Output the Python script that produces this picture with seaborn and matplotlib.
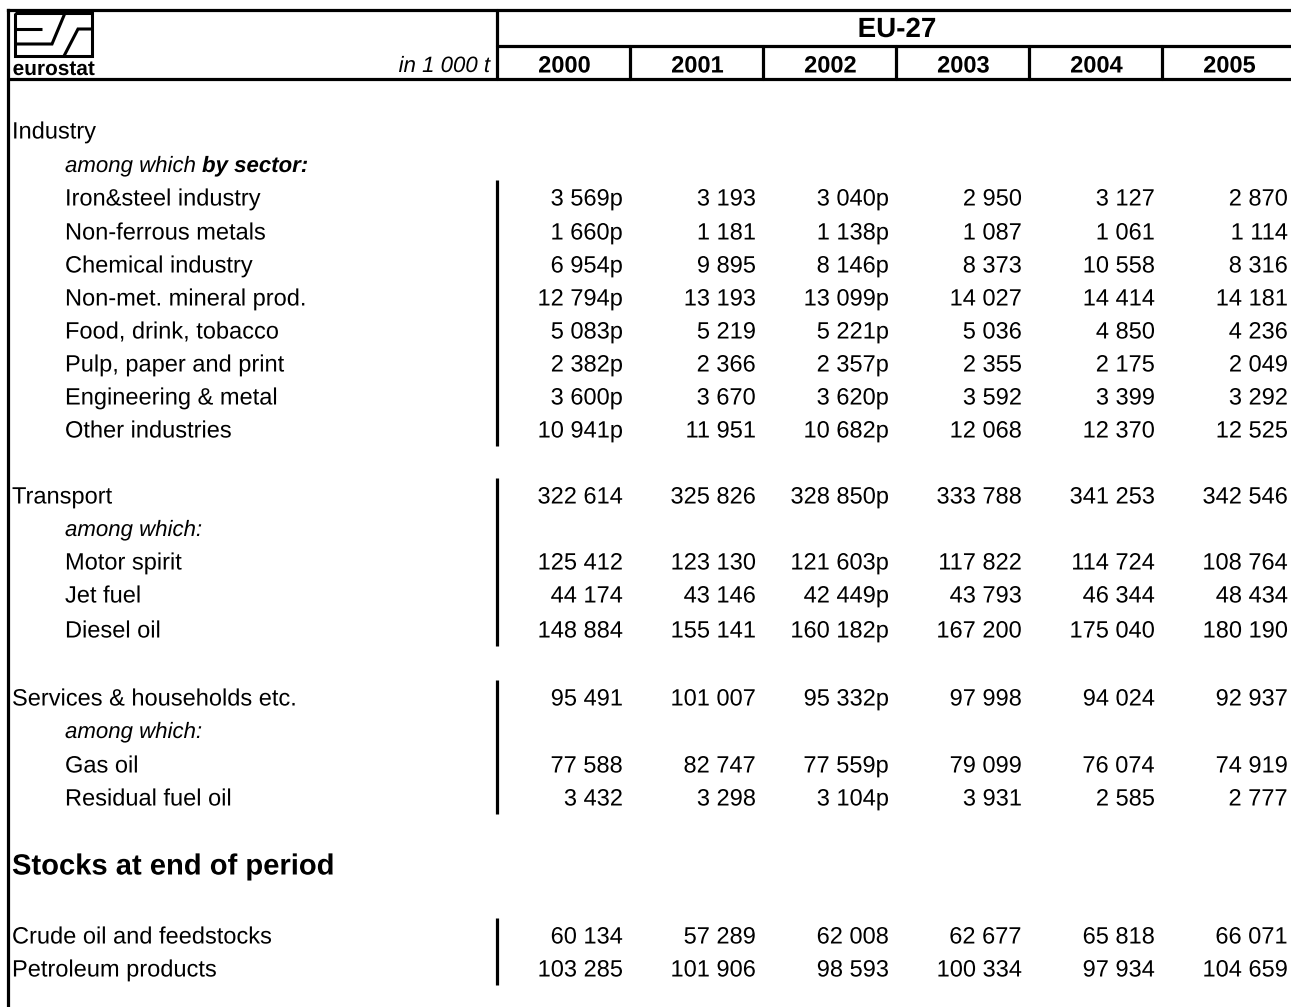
import matplotlib
matplotlib.use("Agg")
import matplotlib.pyplot as plt
import matplotlib.patheffects as pe
import seaborn as sns
import pandas as pd

# --- data (in 1 000 t), EU-27 ---
years = [2000, 2001, 2002, 2003, 2004, 2005]

sector_labels = ["Iron&steel industry", "Non-ferrous metals", "Chemical industry",
                 "Non-met. mineral prod.", "Food, drink, tobacco", "Pulp, paper and print",
                 "Engineering & metal", "Other industries"]
sector_2000 = [3569, 1660, 6954, 12794, 5083, 2382, 3600, 10941]
sector_2001 = [3193, 1181, 9895, 13193, 5219, 2366, 3670, 11951]
sector_2002 = [3040, 1138, 8146, 13099, 5221, 2357, 3620, 10682]
sector_2003 = [2950, 1087, 8373, 14027, 5036, 2355, 3592, 12068]
sector_2004 = [3127, 1061, 10558, 14414, 4850, 2175, 3399, 12370]
sector_2005 = [2870, 1114, 8316, 14181, 4236, 2049, 3292, 12525]

transport = [322614, 325826, 328850, 333788, 341253, 342546]
motor_spirit = [125412, 123130, 121603, 117822, 114724, 108764]
jet_fuel = [44174, 43146, 42449, 43793, 46344, 48434]
diesel_oil = [148884, 155141, 160182, 167200, 175040, 180190]

services = [95491, 101007, 95332, 97998, 94024, 92937]
gas_oil = [77588, 82747, 77559, 79099, 76074, 74919]
residual_fuel_oil = [3432, 3298, 3104, 3931, 2585, 2777]

crude_stocks = [60134, 57289, 62008, 62677, 65818, 66071]
product_stocks = [103285, 101906, 98593, 100334, 97934, 104659]

# years flagged provisional ("p")
prov_sectors = [2000, 2002]
prov_transport = [2002]
prov_services = [2002]
prov_stocks = []

# --- build the table rows ---
sector_cols = [sector_2000, sector_2001, sector_2002, sector_2003, sector_2004, sector_2005]
rows = []
rows.append(dict(label="Industry", kind="main", vals=None, prov=[]))
rows.append(dict(label="among which", kind="note_sector", vals=None, prov=[]))
for i, lab in enumerate(sector_labels):
    rows.append(dict(label=lab, kind="sub", vals=[c[i] for c in sector_cols], prov=prov_sectors))
rows.append(dict(label="", kind="blank", vals=None, prov=[]))
rows.append(dict(label="Transport", kind="main", vals=transport, prov=prov_transport))
rows.append(dict(label="among which:", kind="note", vals=None, prov=[]))
rows.append(dict(label="Motor spirit", kind="sub", vals=motor_spirit, prov=prov_transport))
rows.append(dict(label="Jet fuel", kind="sub", vals=jet_fuel, prov=prov_transport))
rows.append(dict(label="Diesel oil", kind="sub", vals=diesel_oil, prov=prov_transport))
rows.append(dict(label="", kind="blank", vals=None, prov=[]))
rows.append(dict(label="Services & households etc.", kind="main", vals=services, prov=prov_services))
rows.append(dict(label="among which:", kind="note", vals=None, prov=[]))
rows.append(dict(label="Gas oil", kind="sub", vals=gas_oil, prov=prov_services))
rows.append(dict(label="Residual fuel oil", kind="sub", vals=residual_fuel_oil, prov=prov_services))
rows.append(dict(label="", kind="blank", vals=None, prov=[]))
rows.append(dict(label="Stocks at end of period", kind="head", vals=None, prov=[]))
rows.append(dict(label="", kind="blank", vals=None, prov=[]))
rows.append(dict(label="Crude oil and feedstocks", kind="main", vals=crude_stocks, prov=prov_stocks))
rows.append(dict(label="Petroleum products", kind="main", vals=product_stocks, prov=prov_stocks))
df = pd.DataFrame(rows)

# row centres in pixels (layout)
row_y = [130, 164, 197, 231, 264, 297, 330, 363, 396, 429, 462,
         495, 528, 561, 594, 629, 663, 697, 730, 764, 797, 830,
         864, 900, 935, 968]
df["y"] = row_y

# blocks of rows that get the vertical bar next to the numbers (first, last row index)
bar_blocks = [(2, 9), (11, 15), (17, 20), (24, 25)]


def fmt(v, flag):
    s = f"{v:,}".replace(",", " ")
    return s + ("p" if flag else "")


sns.set_theme(style="white")
plt.rcParams["font.family"] = ["Liberation Sans", "DejaVu Sans"]
plt.rcParams["text.color"] = "black"
# draw text as paths so rows stay on one baseline (no pixel snapping)
plt.rcParams["path.effects"] = [pe.Normal()]

W, H = 1291, 1007
fig = plt.figure(figsize=(W / 100, H / 100), dpi=100)
ax = fig.add_axes([0, 0, 1, 1])
ax.set_xlim(0, W)
ax.set_ylim(H, 0)
ax.axis("off")

lw = 2.3
x_left = 8
x_lab = 497
col_w = 133
col_edges = [x_lab + col_w * k for k in range(len(years) + 1)]
y_top, y_mid, y_hdr = 10, 46, 79
BL = 8.5   # baseline offset below the row centre (px)

# header frame
ax.plot([x_left, W], [y_top, y_top], color="black", lw=lw, solid_capstyle="projecting")
ax.plot([x_lab, W], [y_mid, y_mid], color="black", lw=lw)
ax.plot([x_left, W], [y_hdr, y_hdr], color="black", lw=lw)
ax.plot([x_left, x_left], [y_top, H], color="black", lw=lw, solid_capstyle="projecting")
ax.plot([x_lab, x_lab], [y_top, y_hdr], color="black", lw=lw)
for xe in col_edges[1:-1]:
    ax.plot([xe, xe], [y_mid, y_hdr], color="black", lw=lw)

ax.text((x_lab + W) / 2 + 3, 27 + 10, "EU-27", ha="center", va="baseline",
        fontsize=20, fontweight="bold")
for k, yr in enumerate(years):
    ax.text(col_edges[k] + col_w / 2 + 1, 64 + BL, str(yr), ha="center",
            va="baseline", fontsize=17, fontweight="bold")
ax.text(490, 64 + 8, "in 1 000 t", ha="right", va="baseline", fontsize=16, style="italic")

# eurostat logo
lg = dict(color="black", lw=2.2, solid_capstyle="butt", solid_joinstyle="miter")
ax.plot([15, 92, 92, 15, 15], [13, 13, 56, 56, 13], **lg)
ax.plot([15, 42], [29, 29], **lg)
ax.plot([15, 52, 65], [44, 44, 13], **lg)
ax.plot([64, 78, 92], [56, 29, 29], **lg)
ax.text(54, 75, "eurostat", ha="center", va="baseline", fontsize=15, fontweight="bold")

# body rows
for _, r in df.iterrows():
    yb = r["y"] + BL
    kind = r["kind"]
    if kind == "main":
        ax.text(12, yb, r["label"], ha="left", va="baseline", fontsize=17)
    elif kind == "sub":
        ax.text(65, yb, r["label"], ha="left", va="baseline", fontsize=17)
    elif kind == "note":
        ax.text(65, yb - 0.5, r["label"], ha="left", va="baseline", fontsize=16, style="italic")
    elif kind == "note_sector":
        ax.text(65, yb - 0.5, r["label"], ha="left", va="baseline", fontsize=16,
                style="italic")
        ax.text(202, yb - 0.5, "by sector:", ha="left", va="baseline", fontsize=16,
                style="italic", fontweight="bold")
    elif kind == "head":
        ax.text(12, r["y"] + 10.5, r["label"], ha="left", va="baseline", fontsize=21,
                fontweight="bold")
    if r["vals"] is not None:
        for k, yr in enumerate(years):
            ax.text(col_edges[k + 1] - 7, yb, fmt(r["vals"][k], yr in r["prov"]),
                    ha="right", va="baseline", fontsize=17)

for a, b in bar_blocks:
    ax.plot([x_lab, x_lab], [row_y[a] - 17, row_y[b] + 17], color="black", lw=lw,
            solid_capstyle="butt")

fig.savefig("out.png", dpi=100)
